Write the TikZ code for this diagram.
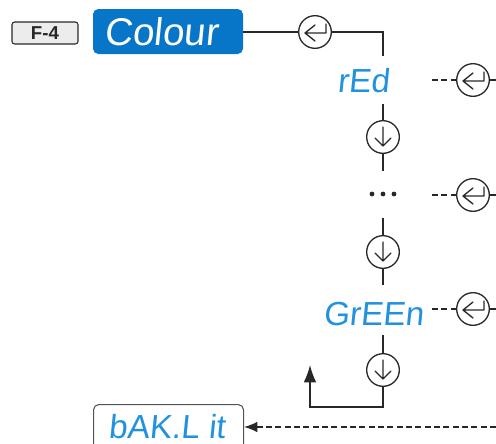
\documentclass[tikz,border=0pt]{standalone}
\usepackage{fontspec}
\setmainfont{Liberation Sans}
\newfontfamily\segfont[FakeSlant=0.1]{Liberation Sans}
\usetikzlibrary{arrows.meta}
\definecolor{boxblue}{RGB}{8,118,200}
\definecolor{segblue}{RGB}{34,146,222}
\definecolor{linegray}{RGB}{40,40,40}
\definecolor{keygray}{RGB}{236,236,236}
\tikzset{
  conn/.style={draw=linegray, line width=1pt},
  dconn/.style={draw=linegray, line width=1pt, dash pattern=on 4.5pt off 2.5pt},
  keycircle/.style={circle, draw=linegray, line width=1pt, minimum size=24.5pt, inner sep=0pt},
  segtext/.style={text=segblue, font=\segfont\fontsize{25}{25}\selectfont, inner sep=0pt, anchor=base west},
  symline/.style={draw=linegray, line width=1pt, line cap=round, line join=round},
  dotmark/.style={circle, fill=linegray, inner sep=0pt, minimum size=3.6pt}
}
\begin{document}
\begin{tikzpicture}[x=0.75pt,y=-0.75pt]
\useasboundingbox (0,0) rectangle (496,443);
\clip (0,0) rectangle (496,443);
% header keys
\node[draw=linegray, fill=keygray, rounded corners=2pt, line width=0.8pt, minimum width=49.5pt, minimum height=16.5pt, inner sep=0pt, font=\bfseries\fontsize{14}{14}\selectfont, text=linegray] (f4) at (45,33) {F-4};
\node[fill=boxblue, rounded corners=4pt, minimum width=112.5pt, minimum height=33.75pt, inner sep=0pt] (colour) at (168,31.5) {};
\node[text=white, font=\segfont\fontsize{29}{29}\selectfont, inner sep=0pt, anchor=base west] (colourtxt) at (104,45) {Colour};
% enter circles
\node[keycircle] (e1) at (315,32) {};
\node[keycircle] (e2) at (473,80) {};
\node[keycircle] (e3) at (473,195) {};
\node[keycircle] (e4) at (473,309) {};
% down circles
\node[keycircle] (d1) at (383,137) {};
\node[keycircle] (d2) at (383,252) {};
\node[keycircle] (d3) at (383,370) {};
% symbols
\foreach \n in {e1,e2,e3,e4}{
  \draw[symline, shift={(\n.center)}] (0,-7) -- (-10,1) -- (0,9) (-10,1) -- (11,1) -- (11,-8);
}
\foreach \n in {d1,d2,d3}{
  \draw[symline, shift={(\n.center)}] (0,-10) -- (0,9) (-8,1) -- (0,9) -- (8,1);
}
% texts
\node[segtext] (red) at (337,92) {rEd};
\node[segtext] (green) at (323,325) {GrEEn};
\node[dotmark] (dot1) at (372,194) {};
\node[dotmark] (dots) at (383,194) {};
\node[dotmark] (dot3) at (394,194) {};
\node[draw=linegray!80, line width=0.8pt, rounded corners=4pt, minimum width=112.5pt, minimum height=45pt, inner sep=0pt, anchor=north west] (bak) at (93,404) {};
\node[segtext] (baktxt) at (108,438) {bAK.L it};
% coordinates
\coordinate (redtop) at (383,56);
\coordinate (redbot) at (383,104);
\coordinate (dotstop) at (383,171);
\coordinate (dotsbot) at (383,218);
\coordinate (greentop) at (383,285);
\coordinate (greenbot) at (383,335);
\coordinate (loopc) at (310,407);
\coordinate (looptip) at (310,365);
\coordinate (r1) at (432,80);
\coordinate (r2) at (432,195);
\coordinate (r3) at (432,309);
\coordinate (o1) at (496,80);
\coordinate (o2) at (496,195);
\coordinate (o3) at (496,309);
\coordinate (bin) at (496,427);
% connectors
\draw[conn] (colour.east |- e1) -- (e1.west);
\draw[conn] (e1.east) -| (redtop);
\draw[conn] (redbot) -- (d1.north);
\draw[conn] (d1.south) -- (dotstop);
\draw[conn] (dotsbot) -- (d2.north);
\draw[conn] (d2.south) -- (greentop);
\draw[conn] (greenbot) -- (d3.north);
\draw[conn, -{Latex[length=13pt,width=9.5pt]}] (d3.south) |- (loopc) -- (looptip);
\draw[dconn, -{Latex[length=10pt,width=8pt]}] (bin) -- (bak.east |- bin);
\draw[dconn] (r1) -- (e2.west);
\draw[conn] (e2.east) -- (o1);
\draw[dconn] (r2) -- (e3.west);
\draw[conn] (e3.east) -- (o2);
\draw[dconn] (r3) -- (e4.west);
\draw[conn] (e4.east) -- (o3);
\end{tikzpicture}
\end{document}
